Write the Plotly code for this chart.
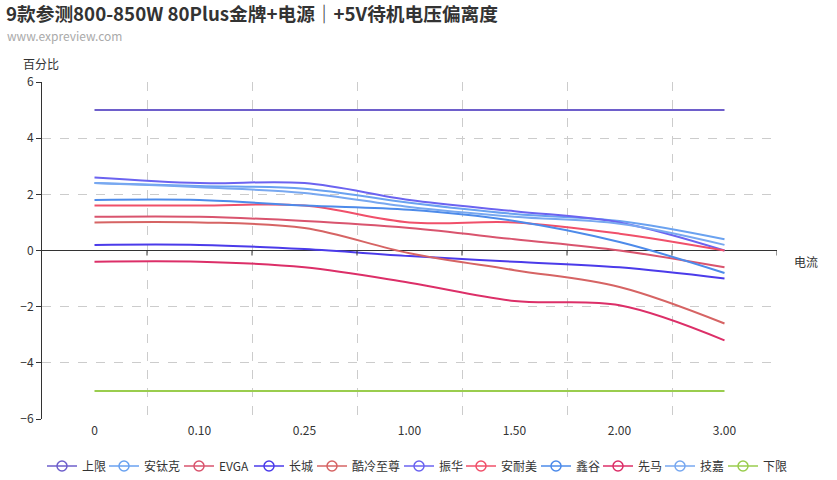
import plotly.graph_objects as go

categories = ["0", "0.10", "0.25", "1.00", "1.50", "2.00", "3.00"]

upper_limit = [5, 5, 5, 5, 5, 5, 5]
antec = [2.4, 2.3, 2.2, 1.7, 1.3, 1.05, 0.4]
evga = [1.2, 1.2, 1.05, 0.8, 0.4, 0.0, -0.6]
greatwall = [0.2, 0.2, 0.05, -0.2, -0.4, -0.6, -1.0]
coolermaster = [1.0, 1.0, 0.8, -0.1, -0.7, -1.3, -2.6]
zhenhua = [2.6, 2.4, 2.4, 1.8, 1.4, 1.0, 0.0]
enermax = [1.6, 1.6, 1.6, 1.0, 1.0, 0.6, 0.0]
segotep = [1.8, 1.8, 1.6, 1.45, 1.05, 0.3, -0.8]
xianma = [-0.4, -0.4, -0.6, -1.15, -1.8, -1.95, -3.2]
gigabyte = [2.4, 2.25, 2.05, 1.55, 1.2, 0.95, 0.2]
lower_limit = [-5, -5, -5, -5, -5, -5, -5]

series_names = ["上限", "安钛克", "EVGA", "长城", "酷冷至尊", "振华", "安耐美", "鑫谷", "先马", "技嘉", "下限"]
series_values = [upper_limit, antec, evga, greatwall, coolermaster, zhenhua, enermax, segotep, xianma, gigabyte, lower_limit]
series_colors = ["#6E5FCB", "#6AA2F0", "#D9546E", "#4B3BEA", "#D66464", "#6B63F0",
                 "#F0506A", "#4D8BEA", "#DC2F68", "#78A8F0", "#9ACD4E"]

y_ticks = [-6, -4, -2, 0, 2, 4, 6]

# layout geometry (pixels)
W, H = 837, 480
ML, MR, MT, MB = 42, 60, 82, 61
PW, PH = W - ML - MR, H - MT - MB
legend_icon_px = [51, 113, 188, 258, 321, 408, 470, 545, 607, 669, 732]
legend_y_px = 466


def px_x(p):
    return (p - ML) / PW


def px_y(p):
    return (H - MB - p) / PH


FONT = "Noto Sans CJK SC, Noto Sans, sans-serif"

fig = go.Figure()
for name, vals, col in zip(series_names, series_values, series_colors):
    fig.add_trace(go.Scatter(
        x=categories, y=vals, name=name, mode="lines",
        line=dict(color=col, width=2, shape="spline", smoothing=1.0),
        legendgroup=name, showlegend=False, hoverinfo="x+y+name"))

legends = {}
for i, (name, col) in enumerate(zip(series_names, series_colors)):
    lid = "legend" if i == 0 else f"legend{i + 1}"
    fig.add_trace(go.Scatter(
        x=[None], y=[None], name=name, mode="lines+markers",
        line=dict(color=col, width=1.5),
        marker=dict(symbol="circle-open", size=10, color=col, line=dict(width=1.5)),
        legendgroup=name, showlegend=True, legend=lid))
    legends[lid] = dict(orientation="h", xref="paper", yref="paper",
                        x=px_x(legend_icon_px[i] - 9), xanchor="left",
                        y=px_y(legend_y_px), yanchor="middle",
                        font=dict(family=FONT, size=12, color="#333333"),
                        itemwidth=30, bgcolor="rgba(0,0,0,0)", borderwidth=0)

# small tick marks on the zero axis line at category boundaries
shapes = []
for i in range(1, len(categories) + 1):
    shapes.append(dict(type="line", xref="x", yref="y", ysizemode="pixel", yanchor=0,
                       x0=i - 0.5, x1=i - 0.5, y0=0, y1=-5,
                       line=dict(color="#333333", width=1)))

fig.update_layout(
    width=W, height=H,
    margin=dict(l=ML, r=MR, t=MT, b=MB, autoexpand=False),
    paper_bgcolor="white", plot_bgcolor="white",
    font=dict(family=FONT, size=12, color="#333333"),
    annotations=[
        dict(text="<b>9款参测800-850W 80Plus金牌+电源｜+5V待机电压偏离度</b>",
             xref="paper", yref="paper", x=px_x(4), y=px_y(13),
             xanchor="left", yanchor="middle", showarrow=False,
             font=dict(family=FONT, size=18.7, color="#333333")),
        dict(text="www.expreview.com", xref="paper", yref="paper",
             x=px_x(5), y=px_y(36), xanchor="left", yanchor="middle",
             showarrow=False, font=dict(family=FONT, size=12, color="#aaaaaa")),
        dict(text="百分比", xref="paper", yref="paper",
             x=px_x(41), y=px_y(64), xanchor="center", yanchor="middle",
             showarrow=False, font=dict(family=FONT, size=12, color="#333333")),
        dict(text="电流", xref="paper", yref="y",
             x=px_x(792), y=0, yshift=-11, xanchor="left", yanchor="middle",
             showarrow=False, font=dict(family=FONT, size=12, color="#333333")),
    ],
    shapes=shapes,
    xaxis=dict(type="category", range=[-0.5, len(categories) - 0.5],
               tickson="boundaries", ticks="", showline=False,
               showgrid=True, gridcolor="#cccccc", griddash="dash", gridwidth=1,
               tickfont=dict(size=12, color="#333333"), ticklabelstandoff=3,
               zeroline=False, automargin=False),
    yaxis=dict(range=[-6, 6], tickvals=y_ticks, showline=True, linecolor="#333333", linewidth=1,
               ticks="outside", ticklen=5, tickcolor="#333333",
               showgrid=True, gridcolor="#cccccc", griddash="dash", gridwidth=1,
               zeroline=True, zerolinecolor="#333333", zerolinewidth=1,
               tickfont=dict(size=12, color="#333333"), automargin=False),
    showlegend=True,
    **legends,
)

fig.write_html("out.html", config={"displayModeBar": False},
               post_script="document.body.style.margin='0';")
